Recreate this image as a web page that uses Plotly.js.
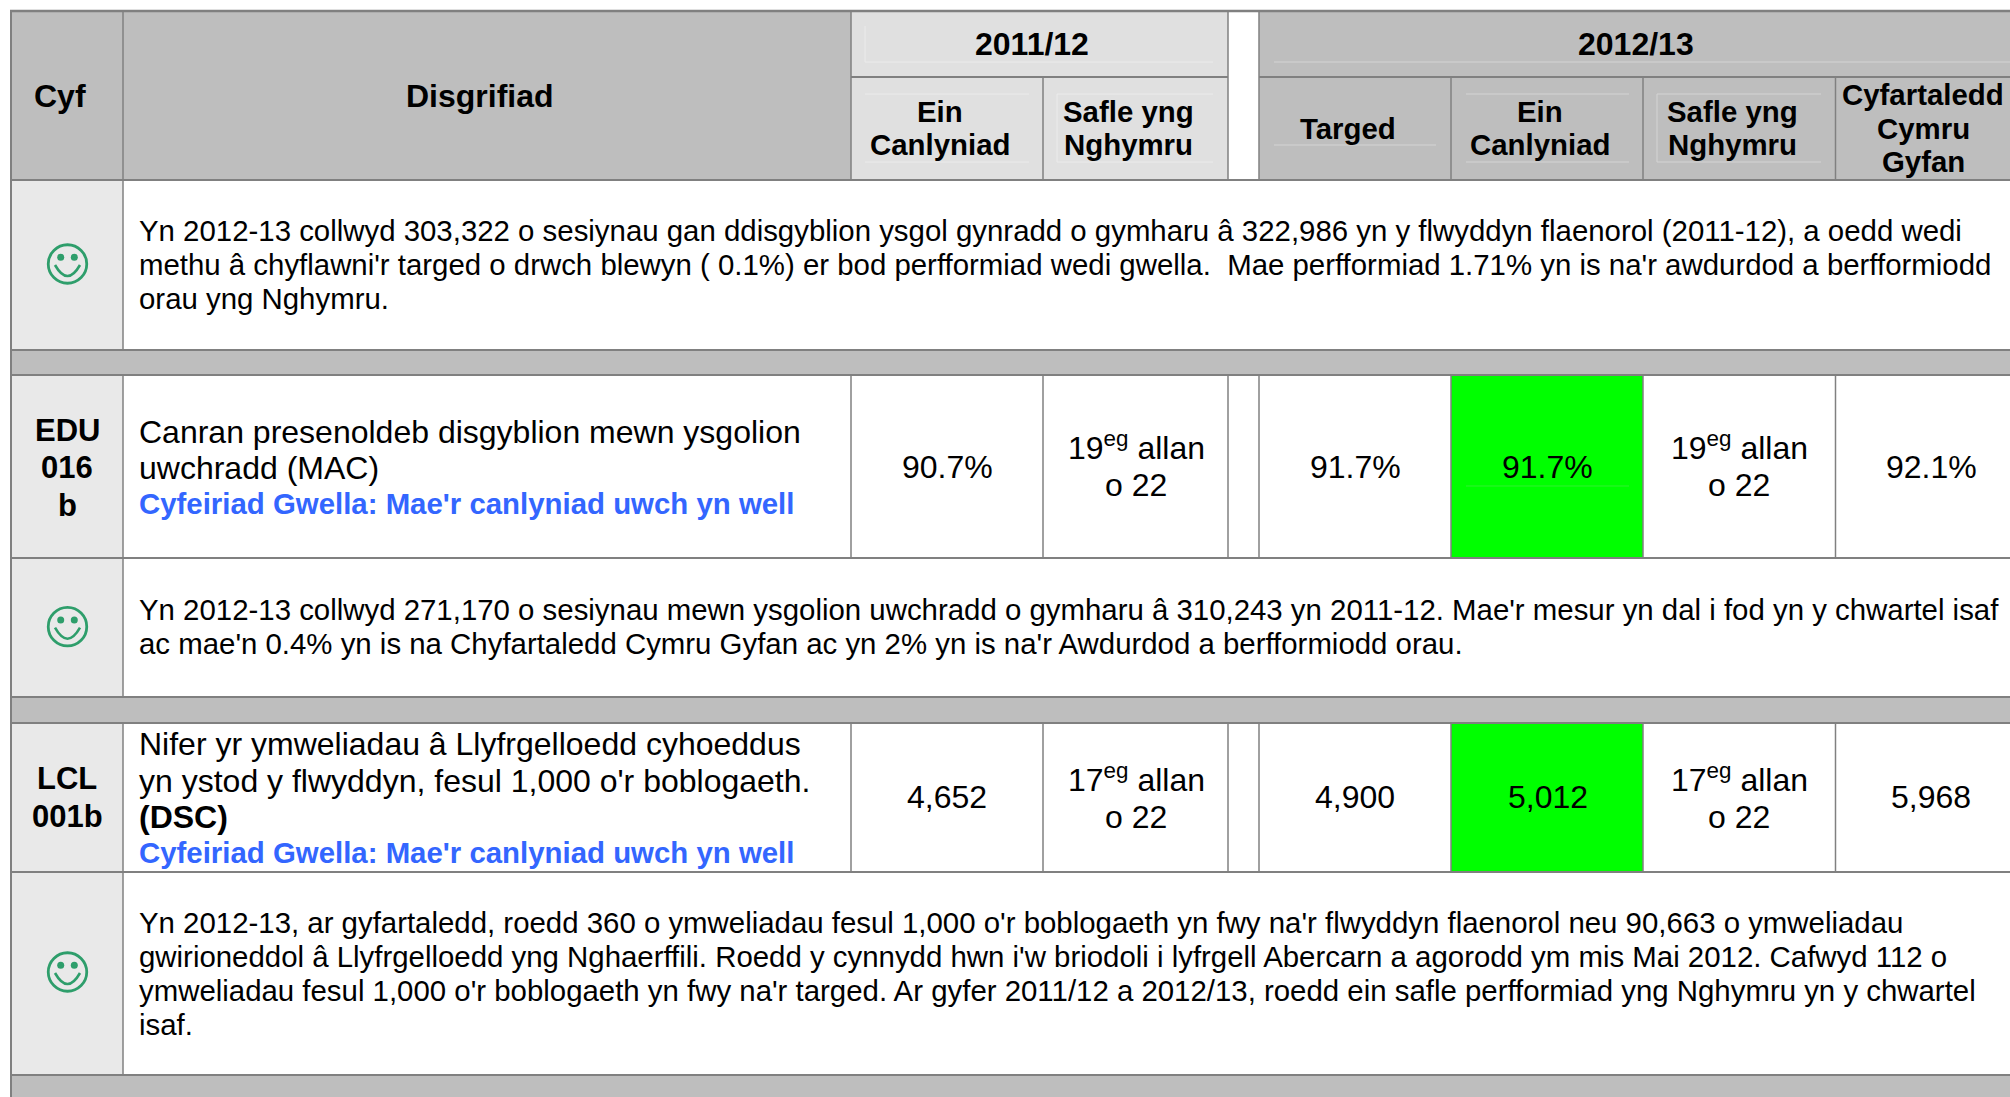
<!DOCTYPE html>
<html>
<head>
<meta charset="utf-8">
<script src="https://cdn.plot.ly/plotly-3.0.1.min.js"></script>
<style>html,body{margin:0;padding:0;background:#fff;overflow:hidden}</style>
</head>
<body>
<div id="chart" style="width:2010px;height:1097px"></div>
<script>
// ---- content ----
const refHeader = "Cyf";
const descHeader = "Disgrifiad";
const periods = ["2011/12", "2012/13"];
const subHeaders = [["Ein","Canlyniad"],["Safle yng","Nghymru"],["Targed"],["Ein","Canlyniad"],["Safle yng","Nghymru"],["Cyfartaledd","Cymru","Gyfan"]];
const comment1 = [
  "Yn 2012-13 collwyd 303,322 o sesiynau gan ddisgyblion ysgol gynradd o gymharu â 322,986 yn y flwyddyn flaenorol (2011-12), a oedd wedi",
  "methu â chyflawni'r targed o drwch blewyn ( 0.1%) er bod perfformiad wedi gwella.\u00A0 Mae perfformiad 1.71% yn is na'r awdurdod a berfformiodd",
  "orau yng Nghymru."
];
const comment2 = [
  "Yn 2012-13 collwyd 271,170 o sesiynau mewn ysgolion uwchradd o gymharu â 310,243 yn 2011-12. Mae'r mesur yn dal i fod yn y chwartel isaf",
  "ac mae'n 0.4% yn is na Chyfartaledd Cymru Gyfan ac yn 2% yn is na'r Awdurdod a berfformiodd orau."
];
const comment3 = [
  "Yn 2012-13, ar gyfartaledd, roedd 360 o ymweliadau fesul 1,000 o'r boblogaeth yn fwy na'r flwyddyn flaenorol neu 90,663 o ymweliadau",
  "gwirioneddol â Llyfrgelloedd yng Nghaerffili. Roedd y cynnydd hwn i'w briodoli i lyfrgell Abercarn a agorodd ym mis Mai 2012. Cafwyd 112 o",
  "ymweliadau fesul 1,000 o'r boblogaeth yn fwy na'r targed. Ar gyfer 2011/12 a 2012/13, roedd ein safle perfformiad yng Nghymru yn y chwartel",
  "isaf."
];
const ref1 = ["EDU","016","b"];
const ref2 = ["LCL","001b"];
const desc1 = ["Canran presenoldeb disgyblion mewn ysgolion","uwchradd (MAC)"];
const desc2 = ["Nifer yr ymweliadau â Llyfrgelloedd cyhoeddus","yn ystod y flwyddyn, fesul 1,000 o'r boblogaeth."];
const desc2Bold = "(DSC)";
const direction = "Cyfeiriad Gwella: Mae'r canlyniad uwch yn well";
const values1 = ["90.7%", ["19<sup>eg</sup> allan","o 22"], "91.7%", "91.7%", ["19<sup>eg</sup> allan","o 22"], "92.1%"];
const values2 = ["4,652", ["17<sup>eg</sup> allan","o 22"], "4,900", "5,012", ["17<sup>eg</sup> allan","o 22"], "5,968"];

// ---- geometry of the page (pixel axes) ----
const colX = {l:11, ref:123, desc:851, a:1043, b:1228, c:1259, d:1451, e:1643, f:1835.5, r:2012};
const FONT = "Liberation Sans, Arial, sans-serif";
const BODY = 29.4, DESC = 32, DIR = 29.4, HEAD = 32, SUB = 29.4, REFS = 31;
const shapes = [], annotations = [];
const rect = (x0,y0,x1,y1,c) => shapes.push({type:"rect",xref:"x",yref:"y",x0,y0,x1,y1,fillcolor:c,line:{width:0},layer:"below"});
const line = (x0,y0,x1,y1,c,w) => shapes.push({type:"line",xref:"x",yref:"y",x0,y0,x1,y1,line:{color:c,width:w},layer:"below"});
const txt = (s,x,y,o={}) => annotations.push({text:s,x,y,xref:"x",yref:"y",showarrow:false,borderpad:0,
  xanchor:o.a||"center",yanchor:"middle",align:o.a||"center",
  font:{family:FONT,size:o.size||BODY,color:o.color||"#000"}});
const bold = s => "<b>"+s+"</b>";

const GREY="#bebebe", PALE="#e0e0e0", SIDE="#e9e9e9", RULE="#808080", GREEN="#00ff00";
// header fills
rect(colX.l,11,colX.desc,180,GREY);
rect(colX.desc,11,colX.b,180,PALE);
rect(colX.c,11,colX.r,180,GREY);
// bands
rect(colX.l,350,colX.r,375,GREY);
rect(colX.l,697,colX.r,723,GREY);
rect(colX.l,1075,colX.r,1098,GREY);
// side column
[[180,350],[375,697],[723,1075]].forEach(([a,b])=>rect(colX.l,a,colX.ref,b,SIDE));
// green result cells
rect(colX.d,375,colX.e,558,GREEN);
rect(colX.d,723,colX.e,872,GREEN);
// faint inner rules
const inner = "#ebebeb";
line(865,26,865,62,inner,1); line(865,62,1213,62,inner,1);
line(865,94,1029,94,inner,1); line(865,162,1029,162,inner,1);
line(1057,94,1213,94,inner,1); line(1057,162,1213,162,inner,1); line(1057,94,1057,162,inner,1);
const inner2 = "#d4d4d4";
line(1274,62,2010,62,inner2,1); line(1274,145,1436,145,inner2,1);
line(1466,94,1629,94,inner2,1); line(1466,162,1629,162,inner2,1);
line(1657,94,1821,94,inner2,1); line(1657,162,1821,162,inner2,1); line(1657,94,1657,162,inner2,1);
line(1466,486,1629,486,"#30f030",1);
// vertical rules
[[10,350],[375,697],[723,1075]].forEach(([a,b])=>line(colX.ref,a,colX.ref,b,RULE,1.5));
line(colX.l,10,colX.l,1097,RULE,2);
[colX.desc,colX.a,colX.b,colX.c,colX.d,colX.e,colX.f].forEach(x=>{
  const a = x===colX.a||x===colX.d||x===colX.e||x===colX.f ? 77 : 11;
  line(x,a,x,180,RULE,1.5);
  line(x,375,x,558,RULE,1.5);
  line(x,723,x,872,RULE,1.5);
});
// horizontal rules
[[11,2.5],[180,2],[350,2],[375,2],[558,2],[697,2],[723,2],[872,2],[1075,2]].forEach(([y,w])=>line(colX.l-1,y,colX.r,y,RULE,w));
line(colX.desc,77,colX.b,77,RULE,2);
line(colX.c,77,colX.r,77,RULE,2);

// header text
txt(bold(refHeader),60,96,{size:HEAD});
txt(bold(descHeader),480,96,{size:HEAD});
txt(bold(periods[0]),1032,44,{size:HEAD});
txt(bold(periods[1]),1636,44,{size:HEAD});
const subX=[940,1128,1348,1540,1732,1923];
const subY={1:[128.5],2:[111,144],3:[94,128.5,161]};
subHeaders.forEach((ls,i)=>ls.forEach((s,j)=>txt(bold(s),subX[i],subY[ls.length][j],{size:SUB})));

// comments
const TX=137.5;
[[comment1,[230.5,264.5,298.5]],[comment2,[609.5,643]],[comment3,[922,956,990,1024]]]
  .forEach(([ls,ys])=>ls.forEach((s,j)=>txt(s,TX,ys[j],{a:"left"})));

// metric rows
ref1.forEach((s,j)=>txt(bold(s),67,[430,467,505][j],{size:REFS}));
ref2.forEach((s,j)=>txt(bold(s),67,[778,816][j],{size:REFS}));
desc1.forEach((s,j)=>txt(s,TX,[431.7,467.5][j],{a:"left",size:DESC}));
txt(bold(direction),TX,503,{a:"left",color:"#3366ff",size:DIR});
desc2.forEach((s,j)=>txt(s,TX,[744,781][j],{a:"left",size:DESC}));
txt(bold(desc2Bold),TX,816.5,{a:"left",size:DESC});
txt(bold(direction),TX,852,{a:"left",color:"#3366ff",size:DIR});

const valX=[947,1136,1355,1547.5,1739,1931];
const drawVals=(vals,yMid,y2)=>vals.forEach((v,i)=>{
  if(Array.isArray(v)){ txt(v[0],valX[i],y2[0],{size:DESC}); txt(v[1],valX[i],y2[1],{size:DESC}); }
  else txt(v,valX[i],yMid,{size:DESC});
});
drawVals(values1,467,[446,485]);
drawVals(values2,797,[778,816.5]);

// smiley faces
const faceY=[264,626.7,972], FACE="#2e9e6b", faceX=67.5;
faceY.forEach(y=>shapes.push({type:"path",xref:"x",yref:"y",layer:"above",
  path:`M ${faceX-12.5} ${y+1} Q ${faceX} ${y+23} ${faceX+12.5} ${y+1}`,line:{color:FACE,width:2.6}}));
const faces={type:"scatter",mode:"markers",x:faceY.map(()=>faceX),y:faceY,hoverinfo:"skip",
  marker:{symbol:"circle-open",size:38.5,color:FACE,line:{width:2.8,color:FACE}}};
const eyes={type:"scatter",mode:"markers",
  x:faceY.flatMap(()=>[faceX-6.8,faceX+6.8]),y:faceY.flatMap(y=>[y-6.8,y-6.8]),hoverinfo:"skip",
  marker:{symbol:"circle",size:7,color:FACE}};

Plotly.newPlot("chart",[faces,eyes],{
  width:2010,height:1097,margin:{l:0,r:0,t:0,b:0},showlegend:false,
  paper_bgcolor:"#fff",plot_bgcolor:"#fff",
  xaxis:{range:[0,2010],visible:false,fixedrange:true},
  yaxis:{range:[1097,0],visible:false,fixedrange:true},
  shapes,annotations
},{displayModeBar:false,staticPlot:true});
</script>
</body>
</html>
